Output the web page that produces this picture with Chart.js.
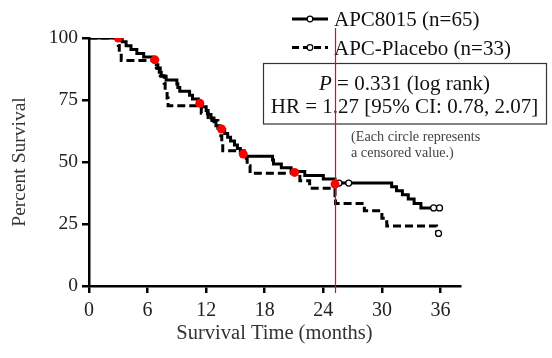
<!DOCTYPE html>
<html>
<head>
<meta charset="utf-8">
<script src="https://cdn.jsdelivr.net/npm/chart.js@4.4.1/dist/chart.umd.min.js"></script>
<style>
  html, body { margin: 0; padding: 0; background: #fff; }
  #wrap { width: 552px; height: 358px; }
</style>
</head>
<body>
<div id="wrap"><canvas id="survivalChart" width="552" height="358"></canvas></div>
<script>
// tick labels
const xTicks = [0, 6, 12, 18, 24, 30, 36];
const yTicks = [0, 25, 50, 75, 100];

// APC8015 (n=65) - Kaplan-Meier steps: month of drop, survival after drop
const apcMonths = [0, 3.4, 3.8, 4.3, 4.9, 5.6, 6.5, 6.9, 7.05, 7.2, 7.4, 7.9, 9.0, 9.1, 9.3, 10.3, 10.6, 11.2,
  11.6, 12.0, 12.2, 12.5, 12.8, 13.0, 13.4, 13.9, 14.2, 14.5, 14.9, 15.2, 15.5, 15.7, 18.8, 18.9, 19.7, 20.7,
  22.1, 24.0, 25.2, 31.0, 31.5, 32.1, 32.7, 33.3, 34.0, 35.9];
const apcSurv = [100, 98.5, 96.9, 95.4, 93.8, 92.3, 90.8, 89.2, 87.7, 86.2, 84.6, 83.1, 81.5, 80.0, 78.5, 76.9, 75.4, 73.8,
  72.3, 70.8, 69.2, 67.7, 66.2, 64.6, 63.1, 61.5, 60.0, 58.5, 56.9, 55.4, 53.8, 52.3, 50.8, 49.2, 47.7, 46.2,
  44.6, 43.1, 41.5, 40.0, 38.4, 36.8, 35.1, 33.3, 31.5, 31.5];

// APC-Placebo (n=33)
const placeboMonths = [0, 3.0, 3.1, 3.3, 6.9, 7.3, 7.7, 7.8, 8.0, 8.1, 11.5, 12.2, 13.2, 13.5, 13.6, 13.7,
  15.9, 16.2, 16.5, 21.6, 22.6, 25.2, 25.25, 28.2, 30.0, 30.5, 35.6, 35.8];
const placeboSurv = [100, 97.0, 93.9, 90.9, 87.9, 84.8, 81.8, 78.8, 75.8, 72.7, 69.7, 66.7, 63.6, 60.6, 57.6, 54.5,
  51.5, 48.5, 45.5, 42.4, 39.4, 36.4, 33.3, 30.3, 27.3, 24.2, 21.2, 21.2];

// censored values
const apcCensorMonths = [25.6, 26.6, 35.3, 35.9];
const apcCensorSurv = [41.5, 41.5, 31.5, 31.5];
const placeboCensorMonths = [35.8];
const placeboCensorSurv = [21.2];

// red highlighted points
const markMonths = [3.0, 6.75, 11.35, 13.57, 15.8, 21.06, 25.2];
const markSurv = [100, 91.2, 73.7, 63.3, 53.2, 45.8, 41.1];

// vertical reference line
const cutoffMonth = 25.25;

const zip = (xs, ys) => xs.map((x, i) => ({ x: x, y: ys[i] }));
const serif = '"Liberation Serif", "Times New Roman", serif';

const annotations = {
    id: 'annotations',
    beforeDatasetsDraw(chart) {
        const ctx = chart.ctx;
        ctx.save();

        // legend
        const rows = [
            { y: 19, base: 26, dash: [], text: 'APC8015 (n=65)' },
            { y: 47.5, base: 55, dash: [7, 4], text: 'APC-Placebo (n=33)' }
        ];
        rows.forEach(r => {
            ctx.strokeStyle = '#000';
            ctx.lineWidth = 3;
            ctx.setLineDash(r.dash);
            ctx.beginPath();
            ctx.moveTo(292, r.y);
            ctx.lineTo(328, r.y);
            ctx.stroke();
            ctx.setLineDash([]);
            ctx.beginPath();
            ctx.arc(310, r.y, 2.8, 0, Math.PI * 2);
            ctx.fillStyle = '#fff';
            ctx.fill();
            ctx.lineWidth = 1.2;
            ctx.stroke();
            ctx.fillStyle = '#111';
            ctx.font = '21px ' + serif;
            ctx.textAlign = 'left';
            ctx.textBaseline = 'alphabetic';
            ctx.fillText(r.text, 334, r.base);
        });

        // stats box
        ctx.strokeStyle = '#333';
        ctx.lineWidth = 1.2;
        ctx.strokeRect(263.5, 63.5, 283, 60.5);
        const cx = 404.5;
        ctx.fillStyle = '#111';
        ctx.font = 'italic 21px ' + serif;
        const pW = ctx.measureText('P').width;
        ctx.font = '21px ' + serif;
        const restTxt = ' = 0.331 (log rank)';
        const restW = ctx.measureText(restTxt).width;
        const x0 = cx - (pW + restW) / 2;
        ctx.font = 'italic 21px ' + serif;
        ctx.fillText('P', x0, 89.5);
        ctx.font = '21px ' + serif;
        ctx.fillText(restTxt, x0 + pW, 89.5);
        ctx.textAlign = 'center';
        ctx.fillText('HR = 1.27 [95% CI: 0.78, 2.07]', cx, 112.5);

        // note
        ctx.textAlign = 'left';
        ctx.fillStyle = '#444';
        ctx.font = '14.2px ' + serif;
        ctx.fillText('(Each circle represents', 351, 141);
        ctx.fillText('a censored value.)', 351, 157);

        ctx.restore();
    }
};

const ctx = document.getElementById('survivalChart').getContext('2d');
new Chart(ctx, {
    type: 'line',
    data: {
        datasets: [{
            label: 'marks',
            data: zip(markMonths, markSurv),
            showLine: false,
            pointRadius: 4.5,
            pointBackgroundColor: '#ff0000',
            pointBorderWidth: 0
        }, {
            label: 'cutoff',
            data: [{ x: cutoffMonth, y: 104 }, { x: cutoffMonth, y: -2.8 }],
            borderColor: '#ff0000',
            borderWidth: 1.2,
            pointRadius: 0,
            clip: false
        }, {
            label: 'censored',
            data: zip(apcCensorMonths, apcCensorSurv).concat(zip(placeboCensorMonths, placeboCensorSurv)),
            showLine: false,
            pointRadius: 3,
            pointBackgroundColor: '#fff',
            pointBorderColor: '#000',
            pointBorderWidth: 1.3
        }, {
            label: 'APC8015 (n=65)',
            data: zip(apcMonths, apcSurv),
            stepped: 'before',
            borderColor: '#000',
            borderWidth: 3,
            pointRadius: 0
        }, {
            label: 'APC-Placebo (n=33)',
            data: zip(placeboMonths, placeboSurv),
            stepped: 'before',
            borderColor: '#000',
            borderWidth: 3,
            borderDash: [8, 4],
            pointRadius: 0
        }]
    },
    options: {
        responsive: false,
        animation: false,
        layout: { padding: { top: 38, right: 92, left: 0, bottom: 0 } },
        plugins: { legend: { display: false }, tooltip: { enabled: false } },
        scales: {
            x: {
                type: 'linear',
                min: 0,
                max: 38,
                afterBuildTicks: s => { s.ticks = xTicks.map(v => ({ value: v })); },
                afterFit: s => { s.height = 72; },
                ticks: { color: '#222', font: { family: serif, size: 20 }, padding: 6 },
                grid: { drawOnChartArea: false, tickLength: 7, lineWidth: 2.5, color: '#000' },
                border: { width: 2.5, color: '#000' },
                title: { display: true, text: 'Survival Time (months)', color: '#333',
                    font: { family: serif, size: 20.5 }, padding: { top: 0, bottom: 12 } }
            },
            y: {
                min: 0,
                max: 100,
                afterBuildTicks: s => { s.ticks = yTicks.map(v => ({ value: v })); },
                afterFit: s => { s.width = 89; },
                ticks: { color: '#222', font: { family: serif, size: 19.5 }, padding: 4 },
                grid: { drawOnChartArea: false, tickLength: 7, lineWidth: 2.5, color: '#000' },
                border: { width: 2.5, color: '#000' },
                title: { display: true, text: 'Percent Survival', color: '#333',
                    font: { family: serif, size: 19.5 }, padding: { top: 8, bottom: 0 } }
            }
        }
    },
    plugins: [annotations]
});
</script>
</body>
</html>
